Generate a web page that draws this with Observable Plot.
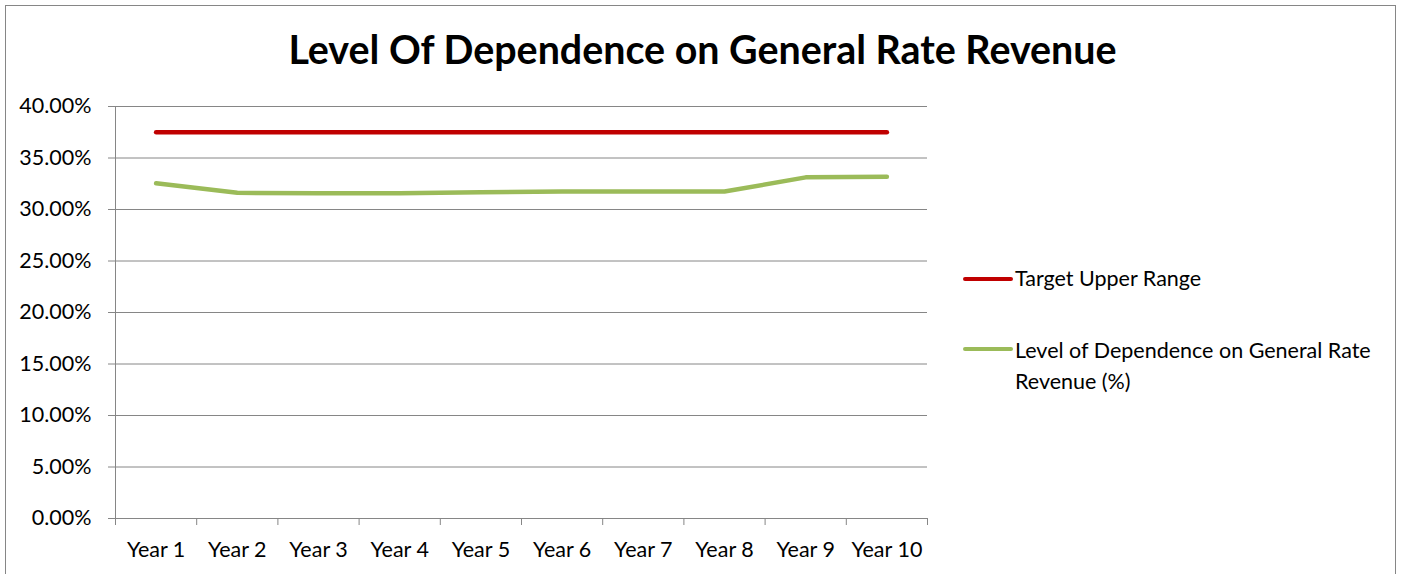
<!DOCTYPE html>
<html><head><meta charset="utf-8">
<script src="https://cdn.jsdelivr.net/npm/d3@7"></script>
<script src="https://cdn.jsdelivr.net/npm/@observablehq/plot@0.6"></script>
<style>
html,body{margin:0;padding:0;background:#fff;}
#wrap{position:relative;width:1405px;height:574px;overflow:hidden;font-family:Lato,"Open Sans",sans-serif;}
#frame{position:absolute;left:5px;top:5px;width:1391px;height:620px;border:1px solid #868686;box-sizing:border-box;}
#title{position:absolute;left:0;top:25px;width:1405px;text-align:center;font-weight:bold;font-size:39.4px;line-height:48px;color:#000;}
#chart{position:absolute;left:0;top:0;}
.leg{position:absolute;font-size:21.5px;color:#000;line-height:31px;}
.sw{position:absolute;height:4px;border-radius:2px;}
</style></head>
<body><div id="wrap"><div id="frame"></div><div id="chart"></div><div id="title">Level Of Dependence on General Rate Revenue</div>
<div class="sw" style="left:963px;top:277px;width:50px;background:#C00000"></div>
<div class="leg" style="left:1015px;top:263px;">Target Upper Range</div>
<div class="sw" style="left:963px;top:347px;width:50px;background:#9BBB59"></div>
<div class="leg" style="left:1015px;top:335px;">Level of Dependence on General Rate<br>Revenue (%)</div>
</div>
<script>
const years = ["Year 1","Year 2","Year 3","Year 4","Year 5","Year 6","Year 7","Year 8","Year 9","Year 10"];
const targetUpper = [37.5,37.5,37.5,37.5,37.5,37.5,37.5,37.5,37.5,37.5];
const dependence = [32.55,31.62,31.58,31.58,31.67,31.74,31.74,31.74,33.12,33.17];
const yTicks = [0,5,10,15,20,25,30,35,40];

const rows = (vals, s) => vals.map((v,i)=>({x:i+1, y:v, year:years[i], s}));
const idx = years.map((_,i)=>i+1);
const bounds = [0.5, ...idx.map(i=>i+0.5)];
const grey = "#868686";

const plot = Plot.plot({
  width:1405, height:574,
  marginLeft:115, marginRight:478, marginTop:106, marginBottom:56,
  style:{fontFamily:"Lato, 'Open Sans', sans-serif", fontSize:"21.5px", color:"#000", background:"transparent"},
  x:{type:"linear", domain:[0.5,10.5]},
  y:{domain:[0,40]},
  marks:[
    Plot.gridY(yTicks,{stroke:grey, strokeOpacity:1, strokeWidth:1}),
    Plot.ruleX([0.5],{stroke:grey, strokeWidth:1}),
    Plot.axisY(yTicks,{tickSize:7, tickPadding:17, stroke:grey, fill:"#000", fontSize:21.5, tickFormat:d=>d.toFixed(2)+"%", label:null}),
    Plot.axisX(bounds,{tickSize:7, stroke:grey, tickFormat:()=>"", label:null}),
    Plot.axisX(idx,{tickSize:0, tickPadding:23, fill:"#000", fontSize:21.5, tickFormat:i=>years[i-1], label:null}),
    Plot.line(rows(targetUpper,"t"),{x:"x", y:"y", stroke:"#C00000", strokeWidth:4.5}),
    Plot.line(rows(dependence,"d"),{x:"x", y:"y", stroke:"#9BBB59", strokeWidth:4.5})
  ]
});
document.getElementById("chart").appendChild(plot);
</script></body></html>
